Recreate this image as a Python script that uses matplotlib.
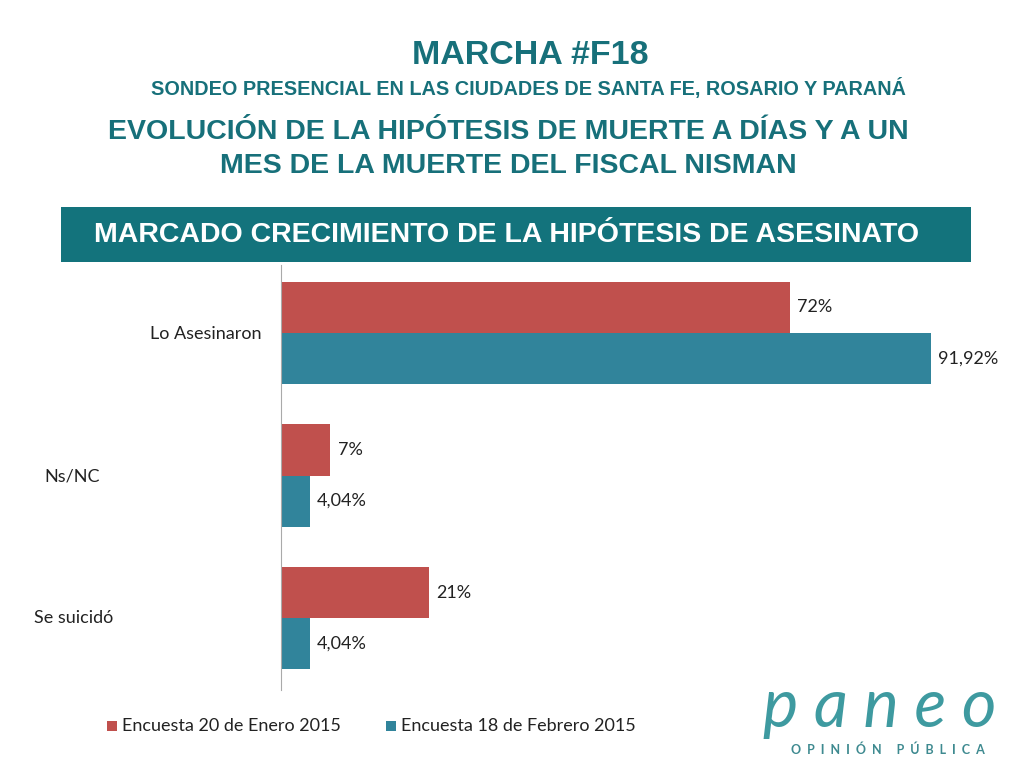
import matplotlib
matplotlib.use("Agg")
import matplotlib.pyplot as plt
from matplotlib.patches import Rectangle

categories = ["Lo Asesinaron", "Ns/NC", "Se suicidó"]
enero = [72, 7, 21]
febrero = [91.92, 4.04, 4.04]
enero_labels = ["72%", "7%", "21%"]
febrero_labels = ["91,92%", "4,04%", "4,04%"]
series_names = ["Encuesta 20 de Enero 2015", "Encuesta 18 de Febrero 2015"]

RED = "#c0504d"
TEAL = "#31849b"
DARK = "#17707a"
W, H = 1024, 768
TITLE_FONT = "Liberation Sans"
BODY_FONT = "Lato"

fig = plt.figure(figsize=(10.24, 7.68), dpi=100)


def px(x, y):
    return x / W, 1 - y / H


def text(x, y, s, **kw):
    kw.setdefault("family", BODY_FONT)
    fig.text(*px(x, y), s, **kw)


text(530, 55, "MARCHA #F18", ha="center", va="center", fontsize=24.5, weight="bold",
     color=DARK, family=TITLE_FONT)
text(528, 88, "SONDEO PRESENCIAL EN LAS CIUDADES DE SANTA FE, ROSARIO Y PARANÁ",
     ha="center", va="center", fontsize=14.3, weight="bold", color=DARK, family=TITLE_FONT)
text(508, 132, "EVOLUCIÓN DE LA HIPÓTESIS DE MUERTE A DÍAS Y A UN",
     ha="center", va="center", fontsize=20.5, weight="bold", color=DARK, family=TITLE_FONT)
text(508, 166, "MES DE LA MUERTE DEL FISCAL NISMAN",
     ha="center", va="center", fontsize=20.5, weight="bold", color=DARK, family=TITLE_FONT)

fig.patches.append(Rectangle(px(61, 262), 910 / W, 55 / H, transform=fig.transFigure,
                             facecolor="#13737c", edgecolor="none"))
text(507, 235, "MARCADO CRECIMIENTO DE LA HIPÓTESIS DE ASESINATO",
     ha="center", va="center", fontsize=20.5, weight="bold", color="white", family=TITLE_FONT)

ax = fig.add_axes([281 / W, 1 - 690 / H, (988 - 281) / W, (690 - 265) / H])
h = 51 / 142.5
ys = list(range(len(categories)))
ax.barh([y - h / 2 for y in ys], enero, height=h, color=RED)
ax.barh([y + h / 2 for y in ys], febrero, height=h, color=TEAL)
for y, v, lab in zip(ys, enero, enero_labels):
    ax.text(v + 1, y - h / 2, lab, va="center", fontsize=13, color="#222222", family=BODY_FONT)
for y, v, lab in zip(ys, febrero, febrero_labels):
    ax.text(v + 1, y + h / 2, lab, va="center", fontsize=13, color="#222222", family=BODY_FONT)
ax.set_xlim(0, 100)
ax.set_ylim(2.505, -0.477)
ax.set_xticks([])
ax.set_yticks([])
for s in ["top", "right", "bottom"]:
    ax.spines[s].set_visible(False)
ax.spines["left"].set_color("#aaaaaa")

text(262, 334, categories[0], ha="right", va="center", fontsize=13, color="#222222")
text(72, 476, categories[1], ha="center", va="center", fontsize=13, color="#222222")
text(74, 618, categories[2], ha="center", va="center", fontsize=13, color="#222222")

# legend
for (x, name, c) in [(107, series_names[0], RED), (386, series_names[1], TEAL)]:
    fig.patches.append(Rectangle(px(x, 731), 10 / W, 10 / H, transform=fig.transFigure,
                                 facecolor=c, edgecolor="none"))
    text(x + 15, 726, name, ha="left", va="center", fontsize=13, color="#222222")

# logo
text(880, 708, "p a n e o", ha="center", va="center", fontsize=48, style="italic",
     color="#3e9aa0")
text(888, 750, "O  P  I  N  I  Ó  N     P  Ú  B  L  I  C  A", ha="center", va="center",
     fontsize=9, weight="bold", color="#3e8a90")

fig.savefig("out.png", dpi=100)
